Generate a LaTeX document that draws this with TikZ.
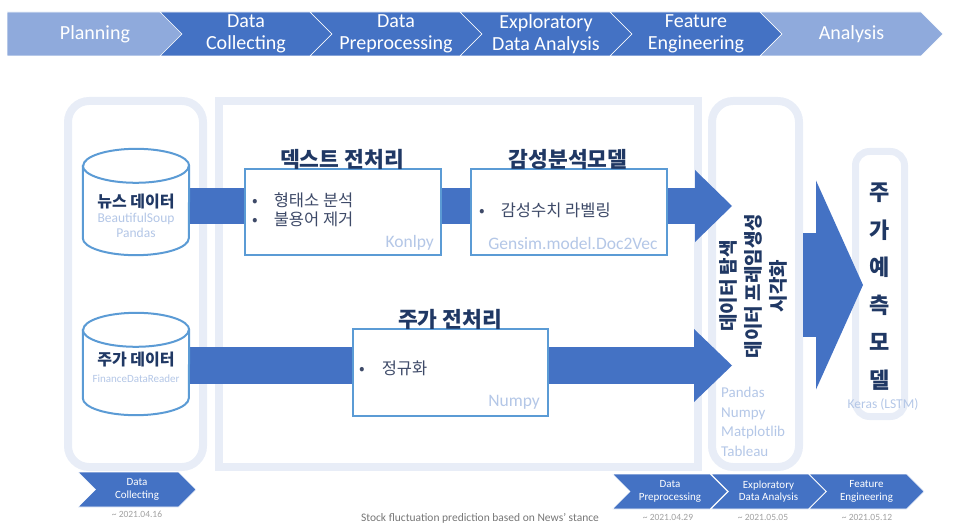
\documentclass[tikz,border=0pt]{standalone}
\usepackage{fontspec}
\setmainfont{Carlito}
\newfontfamily\kr{Noto Sans CJK KR}
\usetikzlibrary{positioning,arrows.meta,shapes.symbols,backgrounds}
\definecolor{stepblue}{RGB}{68,114,196}
\definecolor{steplight}{RGB}{143,170,220}
\definecolor{framebg}{RGB}{232,237,247}
\definecolor{boxline}{RGB}{91,155,213}
\definecolor{navytext}{RGB}{32,56,100}
\definecolor{bodytext}{RGB}{62,74,104}
\definecolor{libblue}{RGB}{180,199,231}
\definecolor{dategrey}{RGB}{160,160,160}
\definecolor{capgrey}{RGB}{118,118,118}

\begin{document}
\begin{tikzpicture}[x=1pt,y=-1pt,
    stage/.style={signal,signal to=east,signal pointer angle=90,fill=stepblue,draw=white,line width=.6pt,text=white,inner sep=0pt,minimum height=44pt,align=center,font=\fontsize{20}{22}\selectfont},
    substage/.style={stage,minimum height=35pt,font=\fontsize{11}{12.5}\selectfont},
    frame/.style={draw=framebg,line width=8pt,rounded corners=21pt,inner sep=0pt},
    cyl/.style={minimum width=106pt,inner sep=0pt},
    cylline/.style={draw=boxline,line width=2pt,fill=white},
    box/.style={draw=boxline,line width=2pt,fill=white,inner sep=0pt,minimum width=196pt,minimum height=86pt},
    title/.style={text=navytext,inner sep=0pt,font=\kr\bfseries\fontsize{21.5}{24}\selectfont},
    dbname/.style={text=navytext,inner sep=0pt,font=\kr\bfseries\fontsize{16}{19}\selectfont},
    items/.style={text=bodytext,align=left,inner sep=0pt,font=\kr\fontsize{16.5}{19}\selectfont},
    lib/.style={text=libblue,inner sep=0pt,align=center,font=\fontsize{17.5}{20}\selectfont},
    band/.style={draw=stepblue,line width=36pt},
    date/.style={text=dategrey,inner sep=0pt,font=\fontsize{9.5}{11}\selectfont}]
  \useasboundingbox (0,0) rectangle (954,532);

  % process bar on top
  \node[stage,fill=steplight,signal from=nowhere,minimum width=185pt] (planning) at (88.5,34) {\hspace*{13pt}Planning};
  \node[stage,signal from=west,minimum width=172pt] (collecting) at (246,34) {Data\\Collecting};
  \node[stage,signal from=west,minimum width=172pt] (preprocessing) at (396,34) {Data\\Preprocessing};
  \node[stage,signal from=west,minimum width=172pt] (exploring) at (546,34) {Exploratory\\Data Analysis};
  \node[stage,signal from=west,minimum width=172pt] (engineering) at (696,34) {Feature\\Engineering};
  \node[stage,fill=steplight,signal from=west,minimum width=183pt] (analysis) at (851.5,34) {Analysis};

  % data sources
  \node[cyl,minimum height=106pt] (news) at (136,202) {};
  \node[cyl,minimum height=102pt] (stock) at (136,364) {};
  \filldraw[cylline] ([yshift=-17pt]news.north west) -- ([yshift=17pt]news.south west) arc[start angle=180,end angle=360,x radius=53pt,y radius=17pt] -- ([yshift=-17pt]news.north east) arc[start angle=0,end angle=180,x radius=53pt,y radius=17pt] -- cycle;
  \draw[cylline,fill=none] ([yshift=-17pt]news.north west) arc[start angle=180,end angle=360,x radius=53pt,y radius=17pt];
  \filldraw[cylline] ([yshift=-17pt]stock.north west) -- ([yshift=17pt]stock.south west) arc[start angle=180,end angle=360,x radius=53pt,y radius=17pt] -- ([yshift=-17pt]stock.north east) arc[start angle=0,end angle=180,x radius=53pt,y radius=17pt] -- cycle;
  \draw[cylline,fill=none] ([yshift=-17pt]stock.north west) arc[start angle=180,end angle=360,x radius=53pt,y radius=17pt];
  \node[dbname] (newsname) at (136,202) {뉴스 데이터};
  \node[lib,font=\fontsize{13.5}{15}\selectfont] (newslib) at (136,225.5) {BeautifulSoup\\Pandas};
  \node[dbname] (stockname) at (136,360) {주가 데이터};
  \node[lib,font=\fontsize{11}{13}\selectfont] (stocklib) at (136,379) {FinanceDataReader};

  % preprocessing
  \node[box] (textbox) at (343,212) {};
  \node[title] (texttitle) at (342,159) {덱스트 전처리};
  \node[items,anchor=west] (textitems) at (252,209.5) {\textbullet\hspace{16pt}형태소 분석\\\textbullet\hspace{16pt}불용어 제거};
  \node[lib,anchor=east] (textlib) at (434,243) {Konlpy};

  \node[box] (sentbox) at (569,212) {};
  \node[title] (senttitle) at (568,159) {감성분석모델};
  \node[items,anchor=west] (sentitems) at (479,210) {\textbullet\hspace{16pt}감성수치 라벨링};
  \node[lib] (sentlib) at (573,243) {Gensim.model.Doc2Vec};

  \node[box,minimum width=195pt,minimum height=87pt] (pricebox) at (450.5,372.5) {};
  \node[title] (pricetitle) at (450,319) {주가 전처리};
  \node[items,anchor=west] (priceitems) at (359,368) {\textbullet\hspace{17pt}정규화};
  \node[lib,anchor=east] (pricelib) at (540,402) {Numpy};

  % eda and model
  \node[dbname,rotate=90,align=center,font=\kr\bfseries\fontsize{19}{25}\selectfont] (edatext) at (753,286) {데이터 탐색\\데이터 프레임생성\\시각화};
  \node[lib,anchor=west,align=left,font=\fontsize{15}{19.5}\selectfont] (edalib) at (721,422) {Pandas\\Numpy\\Matplotlib\\Tableau};
  \node[title,align=center,font=\kr\bfseries\fontsize{22}{37.5}\selectfont] (modeltext) at (880,286.5) {주\\가\\예\\측\\모\\델};
  \node[lib,font=\fontsize{13.5}{16}\selectfont] (keraslib) at (883,404) {Keras (LSTM)};

  \begin{scope}[on background layer]
    \node[frame,minimum width=135pt,minimum height=366pt] (collectframe) at (135.5,284) {};
    \node[frame,rounded corners=0pt,minimum width=479pt,minimum height=366pt] (prepframe) at (458.5,284) {};
    \node[frame,minimum width=87pt,minimum height=366pt] (edaframe) at (755.5,284) {};
    \node[frame,line width=7pt,rounded corners=14pt,minimum width=49pt,minimum height=265pt] (modelframe) at (880,284) {};
    \coordinate (newstip) at (732,206);
    \coordinate (stocktip) at (732,365.5);
    \coordinate (modeltip) at (863,285);
    \draw[band,-{Triangle[length=37pt,width=72pt,line width=0pt]}] (news.center |- newstip) -- (newstip);
    \draw[band,line width=37pt,-{Triangle[length=38pt,width=73pt,line width=0pt]}] (stock.center |- stocktip) -- (stocktip);
    \draw[band,line width=104pt,-{Triangle[length=47pt,width=209pt,line width=0pt]}] (edaframe.east |- modeltip) -- (modeltip);
  \end{scope}

  % schedule at the bottom
  \node[substage,signal from=west,minimum width=118pt] (collectstep) at (137,489.5) {Data\\Collecting};
  \node[date] (collectdate) at (137,514) {\textasciitilde\ 2021.04.16};
  \node[substage,signal from=west,minimum width=115pt] (prepstep) at (670,491.5) {Data\\Preprocessing};
  \node[substage,signal from=west,minimum width=115pt] (edastep) at (768.5,491.5) {Exploratory\\Data Analysis};
  \node[substage,signal from=west,minimum width=115pt] (featstep) at (866.5,491.5) {Feature\\Engineering};
  \node[date] (prepdate) at (668,517) {\textasciitilde\ 2021.04.29};
  \node[date] (edadate) at (763,517) {\textasciitilde\ 2021.05.05};
  \node[date] (featdate) at (867,517) {\textasciitilde\ 2021.05.12};
  \node[text=capgrey,inner sep=0pt,font=\fontsize{11.5}{13}\selectfont] (caption) at (480,518) {Stock fluctuation prediction based on News’ stance};
\end{tikzpicture}
\end{document}
